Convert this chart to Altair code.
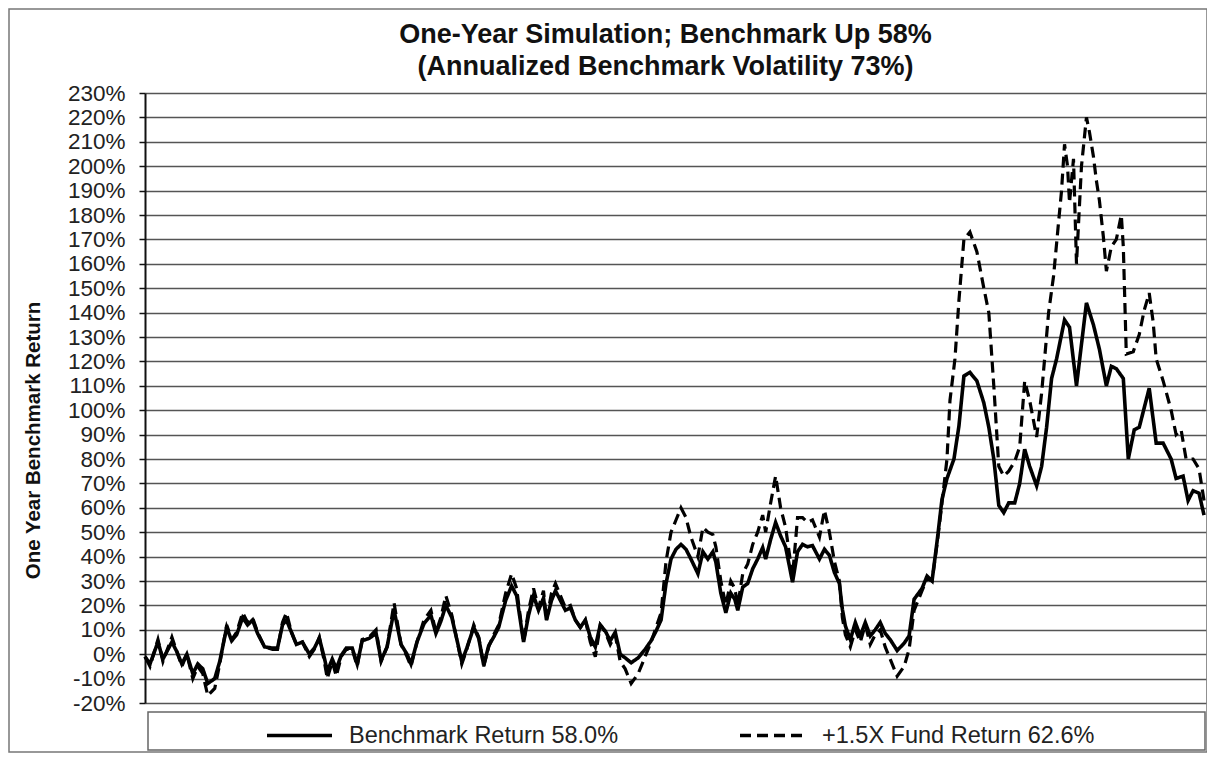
import altair as alt
import pandas as pd

BENCH_NAME = "Benchmark Return 58.0%"
FUND_NAME = "+1.5X Fund Return 62.6%"
TITLE_LINES = ["One-Year Simulation; Benchmark Up 58%", "(Annualized Benchmark Volatility 73%)"]
Y_TITLE = "One Year Benchmark Return"
Y_TICKS = list(range(-20, 231, 10))

# benchmark path (step along the year, return in %)
bench_step = [0, 5, 13, 18, 27, 32, 37, 42, 48, 53, 58, 63, 70, 75, 82, 87, 92, 98, 103, 108,
              113, 120, 128, 133, 138, 142, 147, 152, 158, 165, 170, 175, 180, 183, 188, 192, 197, 202, 208, 213,
              218, 225, 232, 237, 243, 250, 257, 263, 267, 273, 280, 287, 292, 297, 302, 308, 315, 318, 323, 330,
              335, 340, 345, 350, 355, 362, 368, 373, 380, 385, 390, 395, 400, 403, 408, 412, 417, 422, 427, 432,
              437, 442, 447, 452, 457, 462, 467, 472, 477, 482, 488, 495, 502, 508, 513, 518, 523, 528, 533, 538,
              543, 548, 555, 560, 565, 570, 573, 578, 583, 588, 592, 595, 600, 605, 610, 615, 620, 623, 628, 633,
              638, 643, 650, 655, 660, 665, 670, 677, 682, 687, 692, 697, 700, 703, 708, 713, 718, 723, 728, 733,
              738, 743, 748, 755, 762, 767, 772, 780, 785, 790, 795, 800, 805, 812, 817, 822, 828, 835, 842, 847,
              852, 857, 862, 867, 873, 878, 883, 888, 895, 900, 905, 910, 915, 923, 928, 935, 945, 952, 958, 965,
              970, 975, 982, 987, 993, 998, 1008, 1015, 1022, 1030, 1035, 1042, 1047, 1052, 1058, 1063]
bench_ret = [-1, -4, 5, -2, 5, 1, -4, 0, -8, -4, -6, -12, -10, -3, 11, 5.5, 8, 15, 12, 14,
             8.5, 3, 2.5, 2.5, 12, 14, 9, 4, 5, 0, 2.5, 6.5, -1.5, -7, -2, -6, -0.5, 2.5, 2.5, -4,
             5.5, 6.5, 8.5, -2.5, 3, 18, 4, 0, -4, 5, 12.5, 16, 8.5, 13.5, 20, 15, 2.5, -3, 2.5, 11,
             6.5, -4.5, 3.5, 7, 11, 22, 28, 24, 5, 16, 24, 18, 23, 14, 22, 26, 22, 18, 19, 14,
             11, 14, 7, 3, 12, 9.5, 5.5, 9, 0, -1.5, -3.5, -1.5, 2, 5.5, 9.5, 14, 29, 39, 43, 45,
             43, 39, 33, 42, 39, 42, 37.7, 25, 17, 25, 22.5, 18, 27.5, 29, 35, 39, 43.7, 39, 47, 54,
             48.5, 44, 29.5, 42, 45, 44, 44.5, 39, 43, 40.5, 33.5, 29, 18.4, 11.6, 6, 13, 7.5, 13, 7.5, 10,
             13, 8.5, 6, 1.5, 4.5, 7.5, 22.5, 27, 32, 30, 46, 63.5, 72, 80, 93.5, 114, 115.5, 112, 103, 93,
             80, 61, 58, 62, 62, 70, 84, 77, 69, 77, 93, 113, 121, 137, 134, 110, 144, 135, 125, 110,
             118, 117, 113, 80, 92, 93, 109, 86.5, 86.5, 80, 72, 73, 63, 67, 66, 57]

# +1.5X fund path
fund_step = [0, 5, 13, 18, 27, 32, 37, 42, 48, 53, 58, 63, 70, 75, 82, 87, 92, 98, 103, 108,
             113, 120, 128, 133, 138, 142, 147, 152, 158, 165, 170, 175, 180, 183, 188, 192, 197, 202, 208, 213,
             218, 225, 232, 237, 243, 250, 257, 263, 267, 273, 280, 287, 292, 297, 302, 308, 315, 318, 323, 330,
             335, 340, 345, 350, 355, 362, 368, 373, 380, 385, 390, 395, 400, 403, 408, 412, 417, 422, 427, 432,
             437, 442, 447, 452, 457, 462, 467, 472, 477, 482, 488, 495, 502, 508, 513, 518, 523, 528, 533, 538,
             543, 548, 555, 560, 565, 570, 573, 578, 583, 588, 592, 595, 600, 605, 610, 615, 620, 623, 628, 633,
             638, 643, 650, 655, 660, 665, 670, 677, 682, 687, 692, 697, 700, 703, 708, 713, 718, 723, 728, 733,
             738, 743, 748, 755, 762, 767, 772, 780, 785, 790, 795, 800, 805, 808, 813, 817, 822, 828, 835, 842,
             847, 852, 857, 862, 867, 873, 878, 883, 888, 895, 900, 903, 907, 912, 917, 920, 923, 926, 928, 932,
             935, 940, 945, 948, 952, 955, 958, 962, 965, 970, 975, 980, 982, 985, 992, 998, 1003, 1008, 1012, 1015,
             1022, 1030, 1035, 1040, 1045, 1052, 1058, 1063]
fund_ret = [-1, -5, 6, -3, 7, 1, -5, 0, -10, -5, -8, -17, -14, -4, 12, 6, 9, 17, 13, 15,
            9, 3, 2, 2, 13, 17, 9, 4, 5, -1, 2, 7, -3, -10, -3, -9, -1, 2, 2, -5,
            6, 7, 10, -3, 3, 21, 4, -1, -5, 5, 14, 18, 9, 15, 24, 16, 2, -4, 2, 12,
            7, -5, 3, 8, 12, 25, 33, 27, 5, 18, 27, 19, 26, 14, 25, 29, 24, 19, 20, 14,
            11, 14, 5, -1, 12, 9, 4, 8, -3, -6, -12, -8, -1, 5, 11, 17, 38, 50, 55, 60,
            56, 48, 40, 52, 50, 49, 44, 30, 20, 30, 27, 20, 33, 37, 45, 50, 57, 50, 62, 73,
            60, 52, 32, 56, 56, 54, 55, 48, 59, 50, 38, 30, 15, 8, 3, 10, 5, 12, 4, 8,
            10, 3, -2, -9, -5, 2, 18, 26, 31, 30, 45, 62, 80, 104, 121, 145, 170, 173, 165, 150,
            140, 110, 77, 73, 75, 79, 85, 112, 104, 89, 107, 121, 140, 155, 177, 190, 209, 200, 185, 203,
            160, 200, 220, 214, 204, 194, 186, 171, 157, 167, 170, 180, 167, 123, 124, 131, 141, 148, 136, 121,
            112, 100, 90, 92, 80, 80, 76, 63]

FONT = "Liberation Sans"
PLOT_W = 1061
PLOT_H = 610

bench_df = pd.DataFrame({"step": bench_step, "ret": bench_ret, "series": BENCH_NAME})
fund_df = pd.DataFrame({"step": fund_step, "ret": fund_ret, "series": FUND_NAME})

x_enc = alt.X("step:Q", scale=alt.Scale(domain=[0, 1065], nice=False, zero=False), axis=None)
y_enc = alt.Y(
    "ret:Q",
    scale=alt.Scale(domain=[-20, 230], nice=False, zero=False),
    axis=alt.Axis(
        values=Y_TICKS,
        labelExpr="datum.value + '%'",
        title=Y_TITLE,
        titleFontSize=20.5,
        titleFontWeight="bold",
        titleFont=FONT,
        titleColor="#111",
        titleAngle=270,
        titleX=-112,
        titleY=347,
        titleAlign="center",
        titleBaseline="middle",
        labelFont=FONT,
        labelFontSize=22.5,
        labelColor="#222",
        labelPadding=14,
        grid=True,
        gridColor="#555",
        gridWidth=1.6,
        domainColor="#111",
        domainWidth=2,
        tickColor="#111",
        tickSize=6,
        tickWidth=1.5,
    ),
)

dash_enc = alt.StrokeDash(
    "series:N",
    scale=alt.Scale(domain=[BENCH_NAME, FUND_NAME], range=[[1, 0], [11, 6]]),
    legend=alt.Legend(
        title=None,
        orient="none",
        legendX=120,
        legendY=608,
        direction="horizontal",
        labelFont=FONT,
        labelFontSize=23.5,
        labelColor="#222",
        labelOffset=15,
        labelLimit=500,
        symbolType="stroke",
        symbolSize=4225,
        symbolStrokeWidth=3.5,
        symbolStrokeColor="black",
        columnPadding=114,
        padding=0,
    ),
)

fund_line = alt.Chart(fund_df).mark_line(color="black", strokeWidth=3.2).encode(
    x=x_enc, y=y_enc, strokeDash=dash_enc
)
bench_line = alt.Chart(bench_df).mark_line(color="black", strokeWidth=3.6).encode(
    x=x_enc, y=y_enc, strokeDash=dash_enc
)

one = pd.DataFrame({"k": [0]})
outer_box = alt.Chart(one).mark_rect(fill=None, stroke="#777", strokeWidth=1.5).encode(
    x=alt.value(-136), x2=alt.value(PLOT_W + 1), y=alt.value(-84), y2=alt.value(659)
)
legend_box = alt.Chart(one).mark_rect(fill="white", stroke="#666", strokeWidth=1.5).encode(
    x=alt.value(3), x2=alt.value(PLOT_W - 1), y=alt.value(619), y2=alt.value(657)
)

chart = alt.layer(outer_box, legend_box, fund_line, bench_line).properties(
    width=PLOT_W,
    height=PLOT_H,
    autosize=alt.AutoSizeParams(type="none"),
    padding={"left": 137, "top": 85, "right": 1, "bottom": 50},
    title=alt.TitleParams(
        text=TITLE_LINES,
        font=FONT,
        fontSize=27,
        fontWeight="bold",
        color="#111",
        anchor="middle",
        frame="group",
        lineHeight=32,
        offset=0,
        dy=73,
        dx=-10,
    ),
).configure_view(stroke="#888", strokeWidth=1.2).configure(background="white")

chart.save("out.html", embed_options={"renderer": "svg", "actions": False})
